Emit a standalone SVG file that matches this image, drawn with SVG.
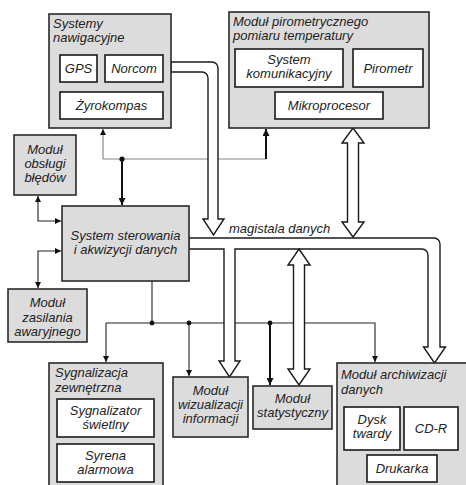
<svg xmlns="http://www.w3.org/2000/svg" width="466" height="485" viewBox="0 0 466 485">
<defs>
<marker id="ah" viewBox="0 0 10 10" refX="10" refY="5" markerWidth="6" markerHeight="6" orient="auto-start-reverse" markerUnits="userSpaceOnUse">
<path d="M0,0 L10,5 L0,10 Z" fill="#111"/>
</marker>
<marker id="ahb" viewBox="0 0 10 10" refX="10" refY="5" markerWidth="7" markerHeight="7" orient="auto-start-reverse" markerUnits="userSpaceOnUse">
<path d="M0,0 L10,5 L0,10 Z" fill="#111"/>
</marker>
</defs>
<style>
.outer{fill:#dcdcdc;stroke:#2a2a2a;stroke-width:1.6}
.inner{fill:#fff;stroke:#1a1a1a;stroke-width:1.6}
text{font-family:"Liberation Sans",Arial,sans-serif;font-style:italic;font-size:13px;fill:#222}
.c{text-anchor:middle}
.ln{fill:none;stroke:#222;stroke-width:1.1}
.gr{fill:none;stroke:#888;stroke-width:1.2}
.thick{fill:none;stroke:#111;stroke-width:2}
.hollow{fill:#fff;stroke:#1a1a1a;stroke-width:1.4;stroke-linejoin:miter}
</style>
<rect width="466" height="485" fill="#fff"/>

<g id="connectors">
<path class="gr" d="M103,159 H266"/>
<path class="gr" d="M103,159 V129" marker-end="url(#ah)"/>
<path class="thick" d="M266,159 V129" marker-end="url(#ahb)"/>
<path class="thick" d="M122,159 V205" marker-end="url(#ahb)"/>
<circle cx="122" cy="159" r="2.6" fill="#111"/>
<path class="ln" d="M38,196 V221 H61" marker-start="url(#ah)" marker-end="url(#ah)"/>
<path class="ln" d="M61,251 H38 V288" marker-start="url(#ah)" marker-end="url(#ah)"/>
<path class="ln" d="M152,281 V323"/>
<path class="ln" d="M106,323 H375 V362" marker-end="url(#ah)"/>
<path class="ln" d="M106,323 V362" marker-end="url(#ah)"/>
<path class="ln" d="M189,323 V376" marker-end="url(#ah)"/>
<path class="thick" d="M270,323 V385" marker-end="url(#ahb)"/>
<circle cx="152" cy="323" r="2.4" fill="#111"/>
<circle cx="189" cy="323" r="2.4" fill="#111"/>
<circle cx="270" cy="323" r="2.4" fill="#111"/>
<path class="hollow" d="M171,62 H212 A6,6 0 0 1 218,68 V219 H224 L213.5,235 L203,219 H208 V78 A6,6 0 0 0 202,72 H171 Z"/>
<path class="hollow" d="M189,238 H434 A6,6 0 0 1 440,244 V347 H445.5 L434.5,363 L423.5,347 H428 V255 A6,6 0 0 0 422,249 H235 V361 H240 L229.5,377 L219,361 H224 V249 H189 Z"/>
<path class="hollow" d="M353,128 L364,143 H358.5 V222 H364 L353,237 L342,222 H347.5 V143 H342 Z"/>
<path class="hollow" d="M299,249 L310,265 H304.5 V369 H310 L299,385 L288,369 H293.5 V265 H288 Z"/>
<text x="229" y="233">magistala danych</text>
</g>

<g id="nawigacja">
<rect class="outer" x="49" y="14" width="122" height="114"/>
<text x="53" y="28">Systemy</text>
<text x="53" y="42">nawigacyjne</text>
<g id="gps"><rect class="inner" x="60" y="55" width="37" height="27"/><text class="c" x="78.5" y="73">GPS</text></g>
<g id="norcom"><rect class="inner" x="105" y="55" width="58" height="27"/><text class="c" x="134" y="73">Norcom</text></g>
<g id="zyrokompas"><rect class="inner" x="60" y="92" width="103" height="27"/><text class="c" x="111.5" y="110">Żyrokompas</text></g>
</g>

<g id="pirometr-modul">
<rect class="outer" x="229" y="12" width="200" height="116"/>
<text x="233" y="26">Moduł pirometrycznego</text>
<text x="233" y="40">pomiaru temperatury</text>
<g id="komunikacja"><rect class="inner" x="235" y="49" width="108" height="38"/><text class="c" x="289" y="64">System</text><text class="c" x="289" y="78">komunikacyjny</text></g>
<g id="pirometr"><rect class="inner" x="353" y="49" width="70" height="38"/><text class="c" x="388" y="73">Pirometr</text></g>
<g id="mikroprocesor"><rect class="inner" x="275" y="92" width="108" height="27"/><text class="c" x="329" y="110">Mikroprocesor</text></g>
</g>

<g id="bledy">
<rect class="outer" x="14" y="135" width="62" height="60"/>
<text class="c" x="45" y="154">Moduł</text>
<text class="c" x="45" y="168">obsługi</text>
<text class="c" x="45" y="182">błędów</text>
</g>

<g id="sterowanie">
<rect class="outer" x="62" y="206" width="127" height="75"/>
<text class="c" x="125.5" y="240">System sterowania</text>
<text class="c" x="125.5" y="254">i akwizycji danych</text>
</g>

<g id="zasilanie">
<rect class="outer" x="8" y="289" width="79" height="53"/>
<text class="c" x="47.5" y="307">Moduł</text>
<text class="c" x="47.5" y="322">zasilania</text>
<text class="c" x="47.5" y="336">awaryjnego</text>
</g>

<g id="sygnalizacja">
<rect class="outer" x="49" y="363" width="114" height="130"/>
<text x="55" y="377">Sygnalizacja</text>
<text x="55" y="392">zewnętrzna</text>
<g id="sygnalizator"><rect class="inner" x="57" y="399" width="97" height="38"/><text class="c" x="105.5" y="415">Sygnalizator</text><text class="c" x="105.5" y="429">świetlny</text></g>
<g id="syrena"><rect class="inner" x="57" y="444" width="97" height="38"/><text class="c" x="105.5" y="460">Syrena</text><text class="c" x="105.5" y="474">alarmowa</text></g>
</g>

<g id="wizualizacja">
<rect class="outer" x="173" y="377" width="75" height="60"/>
<text class="c" x="210.5" y="395">Moduł</text>
<text class="c" x="210.5" y="409">wizualizacji</text>
<text class="c" x="210.5" y="423">informacji</text>
</g>

<g id="statystyka">
<rect class="outer" x="253" y="386" width="79" height="43"/>
<text class="c" x="292.5" y="403">Moduł</text>
<text class="c" x="292.5" y="417">statystyczny</text>
</g>

<g id="archiwizacja">
<rect class="outer" x="337" y="363" width="131" height="130"/>
<text x="341" y="379">Moduł archiwizacji</text>
<text x="341" y="394">danych</text>
<g id="dysk"><rect class="inner" x="344" y="407" width="56" height="43"/><text class="c" x="372" y="424">Dysk</text><text class="c" x="372" y="438">twardy</text></g>
<g id="cdr"><rect class="inner" x="404" y="407" width="54" height="43"/><text class="c" x="431" y="433">CD-R</text></g>
<g id="drukarka"><rect class="inner" x="367" y="455" width="70" height="27"/><text class="c" x="402" y="473">Drukarka</text></g>
</g>
</svg>
